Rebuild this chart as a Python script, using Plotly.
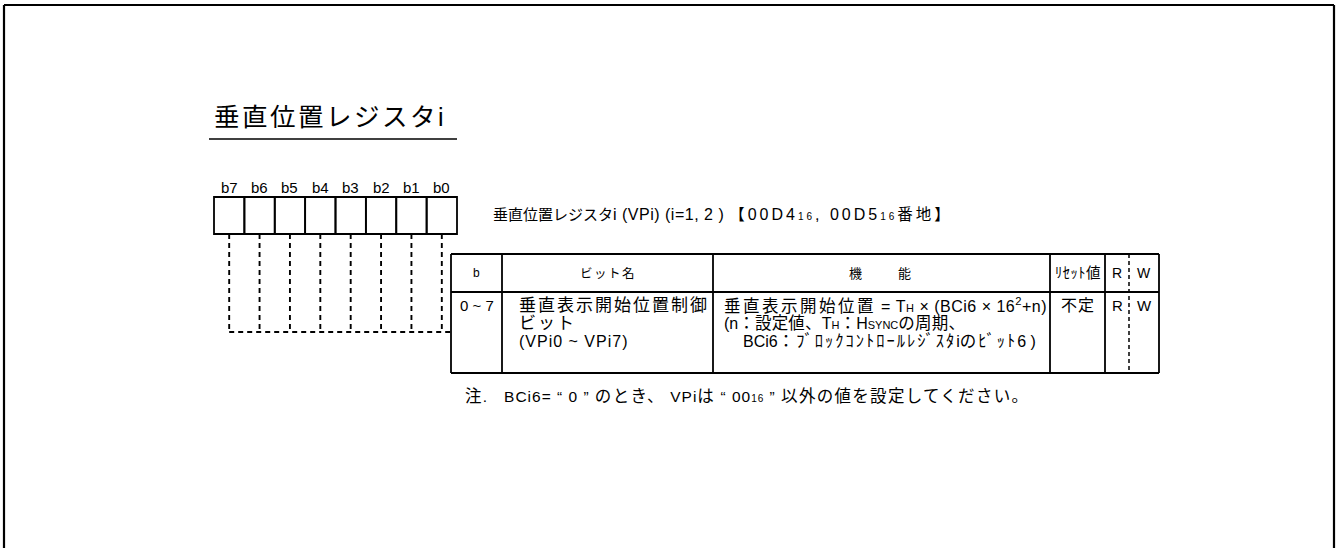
import re
import plotly.graph_objects as go

# ---------------- data (texts of the register diagram) ----------------
title_text = "垂直位置レジスタi"
bit_labels = ["b7", "b6", "b5", "b4", "b3", "b2", "b1", "b0"]
register_caption_name = "垂直位置レジスタi (VPi) (i=1, 2 ) "
register_caption_addr = ("【00D4<span style=\"font-size:10px\">16</span>, "
                         "00D5<span style=\"font-size:10px\">16</span>番地】")
header_labels = ["b", "ビット名", "機　　能", "ﾘｾｯﾄ値", "R", "W"]
row_bits = "0 ~ 7"
row_name_lines = ["垂直表示開始位置制御", "ビット", "(VPi0 ~ VPi7)"]
row_function_lines = [
    "垂直表示開始位置 = T<span style=\"font-size:11px\">H</span> × (BCi6 × 16<sup>2</sup>+n)",
    "(n：設定値、T<span style=\"font-size:11px\">H</span>：H<span style=\"font-size:11px\">SYNC</span>の周期、",
    "BCi6：ﾌﾞﾛｯｸｺﾝﾄﾛｰﾙﾚｼﾞｽﾀiのﾋﾞｯﾄ6 )",
]
row_reset = "不定"
row_read = "R"
row_write = "W"
note_text = ("注.   BCi6= “ 0 ” のとき、 VPiは “ 00<span style=\"font-size:10px\">16</span> ” "
             "以外の値を設定してください。")

# ---------------- styling / layout ----------------
W, H = 1337, 548
FONT = "Liberation Sans, Arial, Noto Sans CJK JP, sans-serif"
CJK_RE = re.compile(r'([\u3000-\u30ff\u3400-\u9fff\uff00-\uffef]+)')


def styled(s, cjk_size=None, cjk_ls=0, lat_ls=0):
    def rep(m):
        st = []
        if cjk_size:
            st.append(f"font-size:{cjk_size}px")
        st.append(f"letter-spacing:{cjk_ls}px")
        return f'<span style="{";".join(st)}">{m.group(1)}</span>'
    out = CJK_RE.sub(rep, s)
    if lat_ls:
        out = f'<span style="letter-spacing:{lat_ls}px">{out}</span>'
    return out


shapes = []
annotations = []


def line(x0, y0, x1, y1, width=1.8, dash=None):
    d = dict(type="line", xref="x", yref="y", x0=x0, y0=y0, x1=x1, y1=y1,
             line=dict(color="black", width=width))
    if dash:
        d["line"]["dash"] = dash
    shapes.append(d)


def text(s, x, y, size, xanchor="left"):
    annotations.append(dict(text=s, x=x, y=y, xref="x", yref="y", showarrow=False,
                            xanchor=xanchor, yanchor="middle",
                            font=dict(family=FONT, size=size, color="black")))


# outer frame (open at the bottom)
line(4, 5, 1334, 5, width=2.2)
line(4, 5, 4, H + 2, width=2.2)
line(1334, 5, 1334, H + 2, width=2.2)

# title with underline
text(styled(title_text, cjk_size=25.5, cjk_ls=2.5), 212, 117, 25)
line(209, 139, 457, 139, width=1.5)

# register cells
bx0, bx1, by0, by1 = 214, 457, 197, 234
cw = (bx1 - bx0) / len(bit_labels)
for i, lab in enumerate(bit_labels):
    cx0 = bx0 + i * cw
    shapes.append(dict(type="rect", xref="x", yref="y", x0=cx0, y0=by0, x1=cx0 + cw, y1=by1,
                       line=dict(color="black", width=1.8)))
    text(lab, cx0 + cw / 2, 187, 15, xanchor="center")
    # dashed leader line
    line(cx0 + cw / 2, by1, cx0 + cw / 2, 332, width=1.9, dash="5px,4px")
line(bx0 + cw / 2, 332, 451, 332, width=1.9, dash="5px,4px")

# register caption
caption = (styled(register_caption_name, cjk_size=15, cjk_ls=0, lat_ls=0.5)
           + styled(register_caption_addr, cjk_size=15.5, cjk_ls=3, lat_ls=3))
text(caption, 491, 214, 16)

# table
tx = [451, 502, 713, 1050, 1105, 1129, 1159]
ty = [254, 292, 373]
for y in ty:
    line(tx[0], y, tx[-1], y, width=1.8)
for j, x in enumerate(tx):
    if j == 5:
        line(x, ty[0], x, ty[-1], width=1.5, dash="4px,3px")
    else:
        line(x, ty[0], x, ty[-1], width=1.8)

hy = (ty[0] + ty[1]) / 2
hsizes = [12, 12.5, 13, 14.5, 14, 14]
hls = [0, 1.5, 3.3, 0.5, 0, 0]
hcx = [(tx[0] + tx[1]) / 2, (tx[1] + tx[2]) / 2, (tx[2] + tx[3]) / 2,
       (tx[3] + tx[4]) / 2, (tx[4] + tx[5]) / 2, (tx[5] + tx[6]) / 2]
for j, lab in enumerate(header_labels):
    text(styled(lab, cjk_ls=hls[j]), hcx[j], hy, hsizes[j], xanchor="center")

ly = [305, 323, 341]
text(row_bits, (tx[0] + tx[1]) / 2, ly[0], 15, xanchor="center")
for k, s in enumerate(row_name_lines):
    text(styled(s, cjk_size=17, cjk_ls=2, lat_ls=(1 if k == 2 else 0)), 517, ly[k], 16)
fx = [722, 722, 741]
f_cjk_ls = [2.5, 0.2, 2]
f_lat_ls = [0.5, 0, 0]
for k, s in enumerate(row_function_lines):
    text(styled(s, cjk_size=16.5, cjk_ls=f_cjk_ls[k], lat_ls=f_lat_ls[k]), fx[k], ly[k], 16)
text(styled(row_reset, cjk_size=16, cjk_ls=1), (tx[3] + tx[4]) / 2, ly[0], 15, xanchor="center")
text(row_read, (tx[4] + tx[5]) / 2, ly[0], 15, xanchor="center")
text(row_write, (tx[5] + tx[6]) / 2, ly[0], 15, xanchor="center")

# note
text(styled(note_text, cjk_size=16.5, cjk_ls=1.3, lat_ls=1), 463, 396, 15.5)

fig = go.Figure()
fig.update_layout(
    width=W, height=H,
    margin=dict(l=0, r=0, t=0, b=0),
    paper_bgcolor="white", plot_bgcolor="white",
    xaxis=dict(range=[0, W], visible=False, fixedrange=True),
    yaxis=dict(range=[H, 0], visible=False, fixedrange=True),
    shapes=shapes, annotations=annotations, showlegend=False,
)
fig.write_html("out.html", config={"displayModeBar": False},
               post_script="document.body.style.margin='0px';document.body.style.overflow='hidden';")
